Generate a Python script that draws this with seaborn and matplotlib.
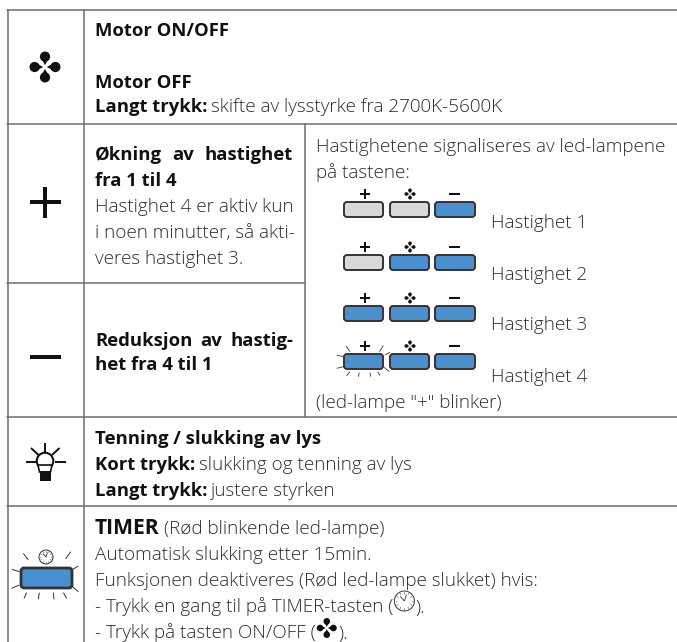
import numpy as np
import matplotlib
matplotlib.use("Agg")
import matplotlib.pyplot as plt
import seaborn as sns
from matplotlib.patches import Circle, FancyBboxPatch, Polygon, Rectangle

sns.set_theme(style="white")
plt.rcParams['font.family'] = ['Open Sans', 'DejaVu Sans']

# Content -------------------------------------------------------------
ROW_FAN = [[("Motor ON/OFF", True)], [("Motor OFF", True)],
           [("Langt trykk: ", True), ("skifte av lysstyrke fra 2700K-5600K", False)]]
PLUS_WORDS = ["Økning", "av", "hastighet"]
PLUS_LINES = [[("fra 1 til 4", True)], [("Hastighet 4 er aktiv kun", False)],
              [("i noen minutter, så akti-", False)], [("veres hastighet 3.", False)]]
MINUS_WORDS = ["Reduksjon", "av", "hastig-"]
MINUS_LINES = [[("het fra 4 til 1", True)]]
SIGNAL_HEAD = ["Hastighetene signaliseres av led-lampene", "på tastene:"]
SPEED_LABELS = ["Hastighet 1", "Hastighet 2", "Hastighet 3", "Hastighet 4"]
SPEED_LIT = [[0, 0, 1], [0, 1, 1], [1, 1, 1], [1, 1, 1]]
SIGNAL_FOOT = '(led-lampe "+" blinker)'
ROW_LIGHT = [[("Tenning / slukking av lys", True)],
             [("Kort trykk: ", True), ("slukking og tenning av lys", False)],
             [("Langt trykk: ", True), ("justere styrken", False)]]
ROW_TIMER = [[("TIMER ", "big"), ("(Rød blinkende led-lampe)", False)],
             [("Automatisk slukking etter 15min.", False)],
             [("Funksjonen deaktiveres (Rød led-lampe slukket) hvis:", False)]]
TIMER_KEY_LINE = "- Trykk en gang til på TIMER-tasten ("
TIMER_FAN_LINE = "- Trykk på tasten ON/OFF ("

BLUE, GREY, EDGE, RULE, INK, BLACK = "#4a90d0", "#d9d9d7", "#333333", "#6e6e6e", "#2c2c2c", "#111111"
FS = 13.6
BOLD_FS = 13.3

fig = plt.figure(figsize=(6.77, 6.42), dpi=100)
ax = fig.add_axes([0, 0, 1, 1])
ax.set_xlim(0, 677)
ax.set_ylim(642, 0)
ax.axis("off")
fig.canvas.draw()
rend = fig.canvas.get_renderer()


def piece(x, y, s, kind):
    bold = kind is True or kind == "big"
    t = ax.text(x, y + 12.5, s, va="baseline", ha="left",
                fontsize=15.2 if kind == "big" else (BOLD_FS if bold else FS),
                fontweight="bold" if bold else "light",
                color=BLACK if bold else INK)
    return t.get_window_extent(rend).x1


def line(x, y, parts):
    for s, kind in parts:
        end = piece(x, y, s.rstrip(), kind)
        x = end + (4 if s.endswith(" ") else 0)
    return x


def block(x, ys, lines):
    for y, parts in zip(ys, lines):
        line(x, y, parts)


def justified(x0, x1, y, words):
    widths = []
    for w in words:
        t = ax.text(0, 0, w, fontsize=BOLD_FS, fontweight="bold")
        widths.append(t.get_window_extent(rend).width)
        t.remove()
    gap = (x1 - x0 - sum(widths)) / (len(words) - 1)
    x = x0
    for w, wd in zip(words, widths):
        piece(x, y, w, True)
        x += wd + gap


def seg(a, b, lw=0.8, color=EDGE):
    ax.plot([a[0], b[0]], [a[1], b[1]], color=color, lw=lw, solid_capstyle="butt", clip_on=False)


def fan(cx, cy, s, color=BLACK):
    c = np.array([cx, cy])
    for a in np.deg2rad([0, 90, 180, 270]):
        u = np.array([np.cos(a), np.sin(a)])
        v = np.array([-u[1], u[0]])
        ax.add_patch(Circle(c + u * s * 0.67, s * 0.33, fc=color, ec="none"))
        ax.add_patch(Polygon([c + u * s * 0.12, c + u * s * 0.6 + v * s * 0.26,
                              c + u * s * 0.6 - v * s * 0.26], fc=color, ec="none"))


def cross(cx, cy, half, th, horizontal_only=False):
    ax.add_patch(Rectangle((cx - half, cy - th / 2), 2 * half, th, fc=BLACK, ec="none"))
    if not horizontal_only:
        ax.add_patch(Rectangle((cx - th / 2, cy - half), th, 2 * half, fc=BLACK, ec="none"))


def key(x0, y0, x1, y1, lit, lw=1.4):
    ax.add_patch(FancyBboxPatch((x0 + 2, y0 + 2), x1 - x0 - 4, y1 - y0 - 4,
                                boxstyle="round,pad=2,rounding_size=3",
                                fc=BLUE if lit else GREY, ec=EDGE, lw=lw))


def clock(cx, cy, r):
    ax.add_patch(Circle((cx, cy), r, fc="white", ec=EDGE, lw=0.7, zorder=3))
    for a in np.deg2rad(np.arange(0, 360, 30)):
        ax.plot([cx + 0.72 * r * np.cos(a), cx + 0.88 * r * np.cos(a)],
                [cy + 0.72 * r * np.sin(a), cy + 0.88 * r * np.sin(a)],
                color=EDGE, lw=0.4, zorder=4)
    ax.plot([cx - 0.4 * r, cx, cx + 0.2 * r], [cy - 0.45 * r, cy, cy - 0.6 * r],
            color=EDGE, lw=0.6, zorder=4)


# Table rules ---------------------------------------------------------
for y in [10, 124, 417, 506]:
    ax.plot([7, 677], [y, y], color=RULE, lw=1.1)
ax.plot([7, 305], [283, 283], color=RULE, lw=1.1)
ax.plot([7.5, 7.5], [10, 642], color=RULE, lw=1.1)
ax.plot([84, 84], [10, 642], color=RULE, lw=1.1)
ax.plot([305, 305], [124, 417], color=RULE, lw=1.1)

# Left column ---------------------------------------------------------
fan(45, 67, 15.5)
cross(45, 202, 15.5, 4)
cross(45, 357, 15.5, 4, horizontal_only=True)

# lamp
ax.add_patch(Circle((45, 461), 8.3, fc="white", ec=BLACK, lw=1.5))
ax.add_patch(Polygon([(38, 465), (52, 465), (50.5, 472), (39.5, 472)], fc="white", ec=BLACK, lw=1.2))
ax.add_patch(Rectangle((39.5, 470.5), 11, 10.5, fc=BLACK, ec="none"))
for a, b in [((45, 443), (45, 452)), ((26, 462), (36.5, 462)), ((55, 462), (65.5, 462)),
             ((31, 448), (38.5, 455)), ((59.5, 448), (52, 455))]:
    seg(a, b, lw=1.4, color=BLACK)

# timer key
key(21, 568, 72, 588, True, lw=2.0)
clock(46, 557, 7)
for a, b in [((70, 430), (85, 450)), ((35, 478), (58, 485)), ((35, 535), (58, 525)),
             ((72, 565), (80, 548)), ((115, 568), (118, 548)), ((162, 568), (160, 548)),
             ((200, 565), (190, 548)), ((235, 545), (215, 528)), ((235, 468), (215, 480)),
             ((212, 425), (197, 447))]:
    seg((a[0] / 3, 410 + a[1] / 3), (b[0] / 3, 410 + b[1] / 3), lw=0.7)

# Text rows -----------------------------------------------------------
block(95, [24, 75, 100], ROW_FAN)
justified(95, 293, 148, PLUS_WORDS)
block(95, [174, 200, 226, 251], PLUS_LINES)
justified(95, 293, 333, MINUS_WORDS)
block(95, [358], MINUS_LINES)
block(95, [432, 458, 484], ROW_LIGHT)
block(95, [522, 548, 574], ROW_TIMER)

# inline icons of the timer row
x = piece(95, 600, TIMER_KEY_LINE, False)
clock(x + 11, 601, 10)
piece(x + 22, 600, ").", False)
x = piece(95, 626, TIMER_FAN_LINE, False)
fan(x + 11, 628, 10)
piece(x + 23, 626, ").", False)

# Signal panel --------------------------------------------------------
piece(316, 140, SIGNAL_HEAD[0], False)
piece(316, 166, SIGNAL_HEAD[1], False)
key_y = [202, 255, 306, 354]
label_y = [216, 267, 318, 369]
key_x = [(344, 383), (390, 429), (435, 475)]
for ky, ly, lit, lab in zip(key_y, label_y, SPEED_LIT, SPEED_LABELS):
    for (x0, x1), on in zip(key_x, lit):
        key(x0, ky, x1, ky + 15, on)
    cross(365, ky - 8, 5, 1.7)
    fan(410, ky - 8, 5.5)
    cross(454, ky - 8, 5.5, 1.7, horizontal_only=True)
    piece(491, ly, lab, False)
for a, b in [((138, 768), (150, 785)), ((110, 795), (130, 800)), ((110, 835), (130, 830)),
             ((140, 857), (150, 845)), ((175, 860), (178, 848)), ((212, 860), (210, 848)),
             ((240, 857), (233, 845)), ((268, 845), (252, 832)), ((270, 787), (255, 795)),
             ((250, 767), (238, 785))]:
    seg((300 + a[0] / 3, 90 + a[1] / 3), (300 + b[0] / 3, 90 + b[1] / 3), lw=0.6)
piece(316, 396, SIGNAL_FOOT, False)

fig.savefig("out.png", dpi=100, facecolor="white")
